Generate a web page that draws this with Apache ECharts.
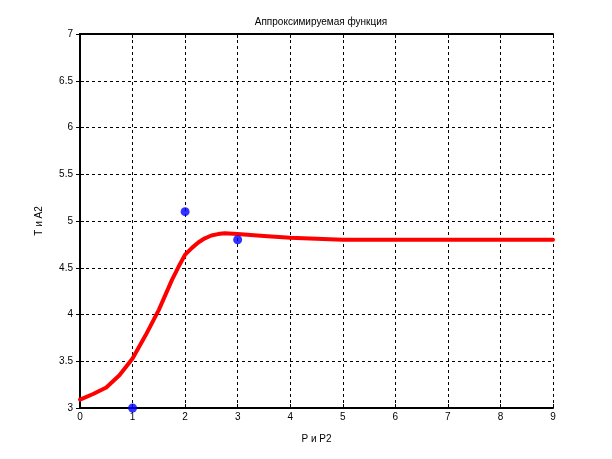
<!DOCTYPE html>
<html>
<head>
<meta charset="utf-8">
<script src="https://cdn.jsdelivr.net/npm/echarts@6/dist/echarts.min.js"></script>
<style>
  html, body { margin: 0; padding: 0; background: #fff; }
  #chart { width: 612px; height: 459px; }
</style>
</head>
<body>
<div id="chart"></div>
<script>
// approximating curve
var curveX = [0, 0.25, 0.5, 0.75, 1, 1.25, 1.5, 1.75, 1.875, 2, 2.125, 2.25, 2.375, 2.5, 2.625, 2.75, 3, 3.5, 4, 4.5, 5, 6, 7, 8, 9];
var curveY = [3.09, 3.15, 3.22, 3.35, 3.53, 3.78, 4.05, 4.37, 4.51, 4.64, 4.71, 4.77, 4.815, 4.845, 4.86, 4.87, 4.86, 4.84, 4.82, 4.81, 4.8, 4.8, 4.8, 4.8, 4.8];

// source points
var pointX = [1, 2, 3];
var pointY = [3, 5.1, 4.8];

var titleText = "Аппроксимируемая функция";
var xName = "P и P2";
var yName = "T и A2";

var font = "Liberation Sans, Arial, sans-serif";

var chart = echarts.init(document.getElementById("chart"));

var curveData = curveX.map(function (x, i) { return [x, curveY[i]]; });
var pointData = pointX.map(function (x, i) { return [x, pointY[i]]; });

var gridLine = { show: true, lineStyle: { color: "#000", width: 1, type: [3, 3] } };
var frame = { show: true, lineStyle: { color: "#000", width: 2 } };
var tick = { show: true, inside: true, length: 4, lineStyle: { color: "#000", width: 1 } };

var option = {
  backgroundColor: "#fff",
  animation: false,
  title: {
    text: titleText,
    left: 316,
    textAlign: "center",
    top: 12,
    textStyle: { fontFamily: font, fontSize: 10, fontWeight: "normal", color: "#000" }
  },
  grid: { left: 80, top: 34, right: 59, bottom: 51 },
  xAxis: [
    {
      type: "value",
      min: 0,
      max: 9,
      interval: 1,
      name: xName,
      nameLocation: "middle",
      nameGap: 26,
      nameTextStyle: { fontFamily: font, fontSize: 10, color: "#000" },
      axisLine: frame,
      axisTick: tick,
      splitLine: gridLine,
      axisLabel: { fontFamily: font, fontSize: 10, color: "#000", margin: 4 }
    },
    {
      type: "value",
      position: "top",
      min: 0,
      max: 9,
      interval: 1,
      axisLine: frame,
      axisTick: tick,
      splitLine: { show: false },
      axisLabel: { show: false }
    }
  ],
  yAxis: [
    {
      type: "value",
      min: 3,
      max: 7,
      interval: 0.5,
      name: yName,
      nameLocation: "middle",
      nameGap: 36,
      nameTextStyle: { fontFamily: font, fontSize: 10, color: "#000" },
      axisLine: frame,
      axisTick: tick,
      splitLine: gridLine,
      axisLabel: { fontFamily: font, fontSize: 10, color: "#000", margin: 7 }
    },
    {
      type: "value",
      position: "right",
      min: 3,
      max: 7,
      interval: 0.5,
      axisLine: frame,
      axisTick: tick,
      splitLine: { show: false },
      axisLabel: { show: false }
    }
  ],
  series: [
    {
      type: "line",
      data: curveData,
      smooth: false,
      showSymbol: false,
      clip: true,
      lineStyle: { color: "#ff0000", width: 4, join: "round", cap: "round" },
      z: 3
    },
    {
      type: "scatter",
      data: pointData,
      symbol: "circle",
      symbolSize: 9,
      clip: false,
      itemStyle: { color: "#0000ff" },
      z: 5
    }
  ]
};

chart.setOption(option);
</script>
</body>
</html>
